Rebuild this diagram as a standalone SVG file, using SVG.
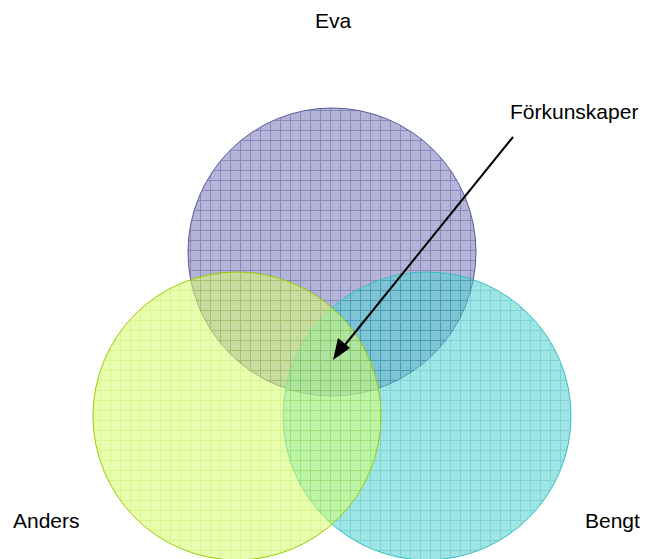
<svg xmlns="http://www.w3.org/2000/svg" width="649" height="559" viewBox="0 0 649 559">
<style>
text{font-family:"Liberation Sans",Arial,sans-serif;font-size:21px;fill:#000}
.c{stroke-width:1}
</style>
<defs>
<pattern id="pEva" width="10" height="10" patternUnits="userSpaceOnUse">
<rect width="10" height="10" fill="#8c8cc4"/>
<path d="M0 0.5H10M0.5 0V10" stroke="#4a4a96" stroke-width="1"/>
</pattern>
<pattern id="pBengt" width="10" height="10" patternUnits="userSpaceOnUse">
<rect width="10" height="10" fill="#4fd2d2"/>
<path d="M0 0.5H10M0.5 0V10" stroke="#1aaeae" stroke-width="1"/>
</pattern>
<pattern id="pAnders" width="10" height="10" patternUnits="userSpaceOnUse">
<rect width="10" height="10" fill="#d6ff70"/>
<path d="M0 0.5H10M0.5 0V10" stroke="#b8ee30" stroke-width="1"/>
</pattern>
</defs>
<rect width="649" height="559" fill="#fff"/>
<g id="eva"><circle class="c" cx="332" cy="252" r="144" fill="url(#pEva)" fill-opacity="0.65" stroke="#5a5a9a"/></g>
<g id="bengt"><circle class="c" cx="427" cy="416" r="144" fill="url(#pBengt)" fill-opacity="0.55" stroke="#33c0c0"/></g>
<g id="anders"><circle class="c" cx="237" cy="416" r="144" fill="url(#pAnders)" fill-opacity="0.55" stroke="#99cc00"/></g>
<g id="connectors">
<line x1="513" y1="137" x2="340" y2="351" stroke="#000" stroke-width="2"/>
<path d="M333 360 L338 338 L350 348 Z" fill="#000"/>
</g>
<g id="labels">
<text x="333" y="28" text-anchor="middle">Eva</text>
<text x="510" y="119">Förkunskaper</text>
<text x="13" y="528">Anders</text>
<text x="585" y="528">Bengt</text>
</g>
</svg>
